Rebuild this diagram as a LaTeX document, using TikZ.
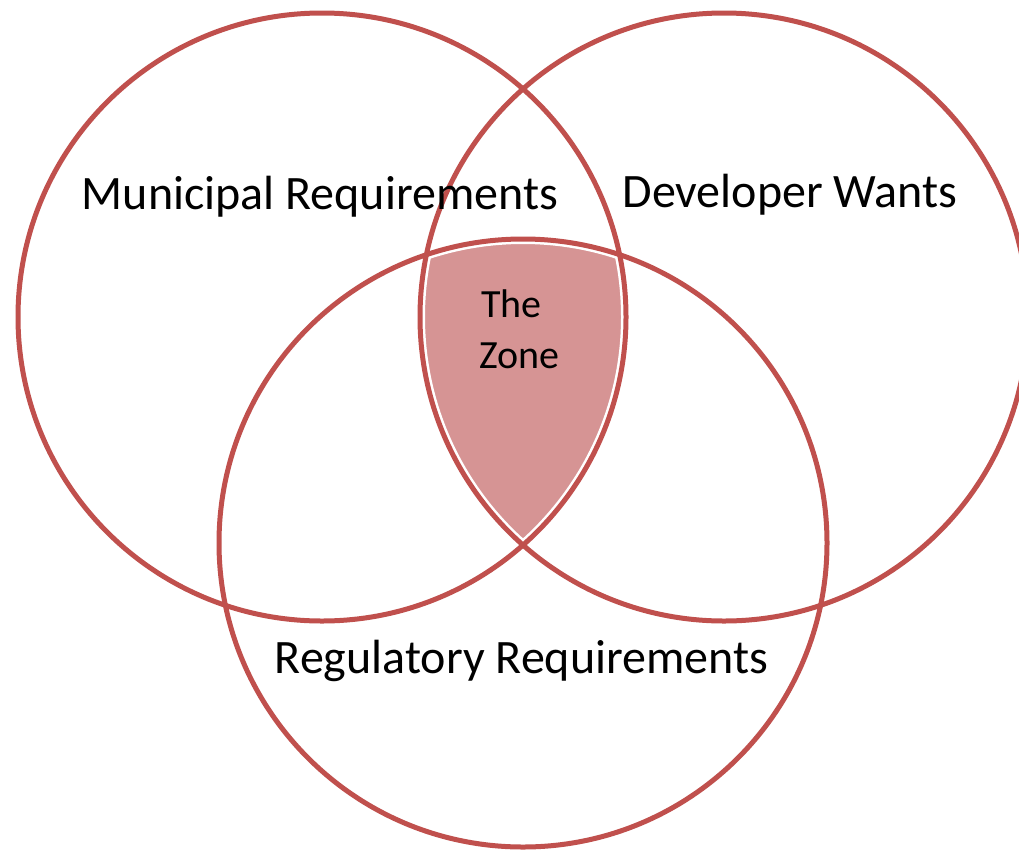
\documentclass[tikz,border=0pt]{standalone}
\usepackage{fontspec}
\setmainfont{Carlito}
\definecolor{ringred}{RGB}{192,80,77}
\definecolor{zonefill}{RGB}{214,148,148}
\tikzset{
  ring/.style={draw=ringred, line width=5pt},
  ringgap/.style={draw=white, line width=10pt},
  biglabel/.style={anchor=base, inner sep=0pt, font=\fontsize{48}{58}\selectfont},
  zonelabel/.style={anchor=base west, inner sep=0pt, font=\fontsize{40}{51}\selectfont}
}
\begin{document}
\begin{tikzpicture}[x=1pt,y=-1pt]
  \useasboundingbox (0,0) rectangle (1019,849);
  % centres of the three circles
  \coordinate (muni) at (322,317);
  \coordinate (dev) at (724,317);
  \coordinate (reg) at (523,543);

  % Shading the zone (common part of all three)
  \begin{scope}
    \clip (muni) circle[radius=304pt];
    \clip (dev) circle[radius=304pt];
    \fill[zonefill] (reg) circle[radius=304pt];
  \end{scope}

  % Drawing the circles
  \foreach \c in {muni,dev,reg}
    \draw[ringgap] (\c) circle[radius=304pt];
  \foreach \c in {muni,dev,reg}
    \draw[ring] (\c) circle[radius=304pt];

  % Marking the labels
  \node[biglabel] (munilabel) at (320,209) {Municipal Requirements};
  \node[biglabel] (devlabel) at (790,207) {Developer Wants};
  \node[biglabel] (reglabel) at (521.5,673) {Regulatory Requirements};
  \node[zonelabel] (zonetop) at (481,317) {The};
  \node[zonelabel] (zonebot) at (479,368) {Zone};
\end{tikzpicture}
\end{document}
